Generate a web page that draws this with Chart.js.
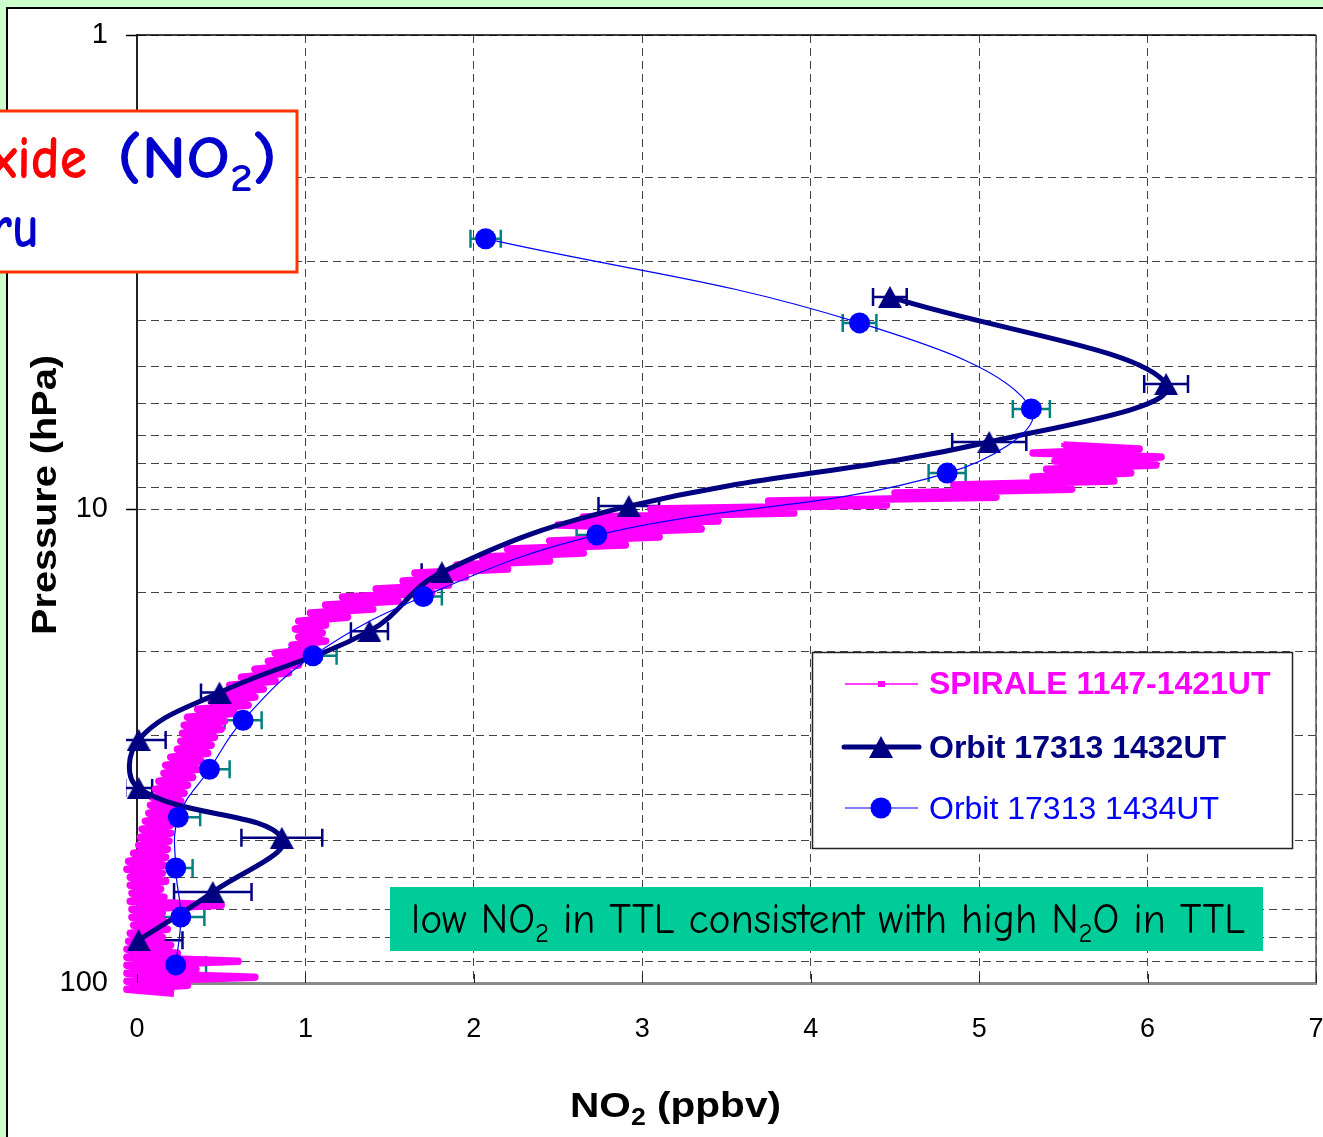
<!DOCTYPE html>
<html>
<head>
<meta charset="utf-8">
<title>NO2 profiles</title>
<script src="https://cdn.jsdelivr.net/npm/chart.js@4/dist/chart.umd.min.js"></script>
<style>
  html, body { margin: 0; padding: 0; background: #ccffcc; overflow: hidden; }
  #panel { position: absolute; left: 6px; top: 7px; width: 1340px; height: 1150px; background: #fff; border: 2px solid #000; }
  #chart { position: absolute; left: 0; top: 0; }
</style>
</head>
<body>
<div id="panel"></div>
<canvas id="chart" width="1323" height="1137"></canvas>
<script>
'use strict'

// SPIRALE balloon profile, traced as left/right edges of the noisy trace
var spiralePres = [
  7.33, 7.47, 7.62, 7.77, 7.92, 8.08, 8.24, 8.40, 8.56, 8.73,
  8.90, 9.08, 9.25, 9.44, 9.62, 9.81, 10.0, 10.2, 10.4, 10.6,
  10.81, 11.02, 11.24, 11.46, 11.68, 11.91, 12.15, 12.39, 12.63, 12.88,
  13.13, 13.39, 13.65, 13.92, 14.19, 14.47, 14.75, 15.04, 15.34, 15.64,
  15.95, 16.26, 16.58, 16.91, 17.24, 17.58, 17.92, 18.27, 18.63, 19.0,
  19.37, 19.75, 20.14, 20.53, 20.94, 21.35, 21.77, 22.19, 22.63, 23.07,
  23.53, 23.99, 24.46, 24.94, 25.43, 25.93, 26.44, 26.96, 27.49, 28.03,
  28.58, 29.14, 29.71, 30.3, 30.89, 31.5, 32.12, 32.75, 33.39, 34.05,
  34.71, 35.4, 36.09, 36.8, 37.52, 38.26, 39.01, 39.78, 40.56, 41.35,
  42.17, 42.99, 43.84, 44.7, 45.58, 46.47, 47.38, 48.31, 49.26, 50.23,
  51.21, 52.22, 53.24, 54.29, 55.35, 56.44, 57.55, 58.68, 59.83, 61.0,
  62.2, 63.42, 64.67, 65.93, 67.23, 68.55, 69.89, 71.26, 72.66, 74.09,
  75.54, 77.02, 78.53, 80.07, 81.64, 83.25, 84.88, 86.54, 88.24, 89.97,
  91.74, 93.54, 95.37, 97.24, 99.15, 101.1, 103.1, 105.1
];
var spiraleNO2 = [
  5.50, 5.95, 5.32, 6.08, 5.45, 6.05, 5.40, 5.90, 5.32, 5.80,
  4.85, 5.55, 4.50, 5.10, 3.75, 4.45, 3.05, 3.90, 2.65, 3.45,
  2.50, 3.35, 2.70, 3.10, 2.45, 2.90, 2.20, 2.65, 2.05, 2.45,
  1.90, 2.20, 1.65, 1.95, 1.58, 1.85, 1.42, 1.75, 1.22, 1.55,
  1.12, 1.40, 1.03, 1.25, 0.96, 1.12, 0.94, 1.10, 0.96, 1.12,
  0.92, 1.06, 0.82, 1.00, 0.78, 0.96, 0.70, 0.90, 0.62, 0.82,
  0.55, 0.75, 0.48, 0.70, 0.44, 0.66, 0.36, 0.58, 0.30, 0.52,
  0.28, 0.50, 0.27, 0.46, 0.26, 0.44, 0.24, 0.42, 0.20, 0.38,
  0.17, 0.36, 0.16, 0.33, 0.13, 0.30, 0.11, 0.28, 0.09, 0.26,
  0.08, 0.23, 0.07, 0.22, 0.05, 0.20, 0.03, 0.20, 0.02, 0.19,
  0.01, 0.18, -0.02, 0.17, -0.05, 0.16, -0.06, 0.15, -0.04, 0.17,
  -0.04, 0.14, -0.03, 0.16, -0.04, 0.50, -0.03, 0.15, -0.03, 0.16,
  -0.02, 0.18, -0.04, 0.15, -0.05, 0.20, -0.06, 0.24, -0.06, 0.60,
  -0.06, 0.35, -0.06, 0.70, -0.06, 0.30, -0.06, 0.22
];

// Orbit 17313 1432UT (triangles)
var orbit1432Pres = [3.57, 5.45, 7.22, 9.86, 13.6, 18.1, 24.4, 30.7, 38.8, 49.4, 64.3, 81.2];
var orbit1432NO2 = [4.47, 6.11, 5.06, 2.92, 1.81, 1.38, 0.49, 0.01, 0.01, 0.86, 0.45, 0.01];
var orbit1432Err = [0.10, 0.13, 0.22, 0.18, 0.12, 0.11, 0.11, 0.16, 0.08, 0.24, 0.23, 0.26];

// Orbit 17313 1434UT (circles)
var orbit1434Pres = [2.69, 4.05, 6.15, 8.40, 11.35, 15.3, 20.4, 27.9, 35.4, 44.7, 57.2, 72.6, 91.6];
var orbit1434NO2 = [2.07, 4.29, 5.31, 4.81, 2.73, 1.70, 1.045, 0.63, 0.43, 0.245, 0.23, 0.26, 0.23];
var orbit1434Err = [0.09, 0.10, 0.11, 0.11, 0.12, 0.11, 0.14, 0.11, 0.12, 0.13, 0.10, 0.14, 0.18];

var xTicks = [0, 1, 2, 3, 4, 5, 6, 7];
var yLabels = [1, 10, 100];

var MAGENTA = '#ff00ff';
var NAVY = '#000080';
var BLUE = '#0000ff';
var TEAL = '#008080';
var SANS = '"Liberation Sans", Arial, sans-serif';
var COMIC = '"Comic Sans MS", "Comic Neue", "Noto Sans", sans-serif';

function toPoints(xs, ys) {
  var pts = [];
  for (var i = 0; i < xs.length; i++) {
    pts.push({x: xs[i], y: ys[i]});
  }
  return pts;
}

// Excel style triangle, centred on its bounding box
function makeTriangle(w, h, color) {
  var c = document.createElement('canvas');
  c.width = w;
  c.height = h;
  var t = c.getContext('2d');
  t.fillStyle = color;
  t.beginPath();
  t.moveTo(w / 2, 0);
  t.lineTo(w, h);
  t.lineTo(0, h);
  t.closePath();
  t.fill();
  return c;
}
var triangle = makeTriangle(24, 22, NAVY);

// text with subscripts: parts = [[text, isSub], ...]
function richWidth(ctx, parts, size, weight, family) {
  var w = 0;
  for (var i = 0; i < parts.length; i++) {
    ctx.font = weight + ' ' + (parts[i][1] ? Math.round(size * 0.65) : size) + 'px ' + family;
    w += ctx.measureText(parts[i][0]).width;
  }
  return w;
}
function drawRich(ctx, parts, x, y, size, weight, family, colors) {
  ctx.textBaseline = 'alphabetic';
  ctx.textAlign = 'left';
  for (var i = 0; i < parts.length; i++) {
    var sub = parts[i][1];
    ctx.font = weight + ' ' + (sub ? Math.round(size * 0.65) : size) + 'px ' + family;
    ctx.fillStyle = colors[i] || colors[0];
    ctx.fillText(parts[i][0], x, y + (sub ? size * 0.22 : 0));
    x += ctx.measureText(parts[i][0]).width;
  }
}
// stretch a rich string so it spans left..left+width
function fitRich(ctx, parts, left, y, width, size, weight, family, colors) {
  var w = richWidth(ctx, parts, size, weight, family);
  ctx.save();
  ctx.translate(left, y);
  ctx.scale(width / w, 1);
  drawRich(ctx, parts, 0, 0, size, weight, family, colors);
  ctx.restore();
}

function drawErrorBars(chart, xs, ps, errs, color, width, cap) {
  var ctx = chart.ctx;
  var sx = chart.scales.x;
  var sy = chart.scales.y;
  var a = chart.chartArea;
  ctx.save();
  ctx.beginPath();
  ctx.rect(a.left - 11, 0, chart.width, chart.height);
  ctx.clip();
  ctx.strokeStyle = color;
  ctx.lineWidth = width;
  for (var i = 0; i < xs.length; i++) {
    var y = sy.getPixelForValue(ps[i]);
    var x1 = sx.getPixelForValue(xs[i] - errs[i]);
    var x2 = sx.getPixelForValue(xs[i] + errs[i]);
    ctx.beginPath();
    ctx.moveTo(x1, y);
    ctx.lineTo(x2, y);
    ctx.moveTo(x1, y - cap / 2);
    ctx.lineTo(x1, y + cap / 2);
    ctx.moveTo(x2, y - cap / 2);
    ctx.lineTo(x2, y + cap / 2);
    ctx.stroke();
  }
  ctx.restore();
}

var decorations = {
  id: 'decorations',
  beforeDatasetsDraw: function(chart) {
    drawErrorBars(chart, orbit1432NO2, orbit1432Pres, orbit1432Err, NAVY, 2.5, 18);
    drawErrorBars(chart, orbit1434NO2, orbit1434Pres, orbit1434Err, TEAL, 2.5, 18);
  },
  afterDraw: function(chart) {
    var ctx = chart.ctx;
    var a = chart.chartArea;
    ctx.save();

    // plot frame top and right, inner x ticks
    ctx.lineWidth = 1.5;
    ctx.strokeStyle = '#000';
    ctx.beginPath();
    ctx.moveTo(a.left, a.top);
    ctx.lineTo(a.right, a.top);
    ctx.stroke();
    ctx.strokeStyle = '#555';
    ctx.beginPath();
    ctx.moveTo(a.right, a.top);
    ctx.lineTo(a.right, a.bottom);
    ctx.stroke();
    ctx.strokeStyle = '#222';
    ctx.lineWidth = 1;
    ctx.beginPath();
    for (var i = 0; i < xTicks.length; i++) {
      var tx = Math.round(chart.scales.x.getPixelForValue(xTicks[i])) + 0.5;
      ctx.moveTo(tx, a.bottom - 9);
      ctx.lineTo(tx, a.bottom);
    }
    ctx.stroke();

    // legend
    var lx = 812, ly = 652;
    ctx.fillStyle = '#fff';
    ctx.fillRect(lx, ly, 480, 196);
    ctx.strokeStyle = '#222';
    ctx.lineWidth = 1.5;
    ctx.strokeRect(lx + 0.5, ly + 0.5, 480, 196);

    ctx.strokeStyle = MAGENTA;
    ctx.lineWidth = 1.5;
    ctx.beginPath();
    ctx.moveTo(845, 684);
    ctx.lineTo(918, 684);
    ctx.stroke();
    ctx.fillStyle = MAGENTA;
    ctx.fillRect(878, 681, 7, 6);

    ctx.strokeStyle = NAVY;
    ctx.lineWidth = 5;
    ctx.lineCap = 'round';
    ctx.beginPath();
    ctx.moveTo(844, 747);
    ctx.lineTo(919, 747);
    ctx.stroke();
    ctx.drawImage(triangle, 881 - 12, 747 - 11);

    ctx.strokeStyle = BLUE;
    ctx.lineWidth = 1.2;
    ctx.lineCap = 'butt';
    ctx.beginPath();
    ctx.moveTo(845, 808);
    ctx.lineTo(918, 808);
    ctx.stroke();
    ctx.fillStyle = BLUE;
    ctx.beginPath();
    ctx.arc(881, 808, 10.5, 0, Math.PI * 2);
    ctx.fill();

    ctx.textAlign = 'left';
    ctx.textBaseline = 'alphabetic';
    ctx.font = 'bold 32px ' + SANS;
    ctx.fillStyle = MAGENTA;
    ctx.fillText('SPIRALE 1147-1421UT', 929, 694);
    ctx.fillStyle = NAVY;
    ctx.fillText('Orbit 17313 1432UT', 929, 758);
    ctx.font = '32px ' + SANS;
    ctx.fillStyle = BLUE;
    ctx.fillText('Orbit 17313 1434UT', 929, 819);

    // TTL note
    ctx.fillStyle = '#00cc99';
    ctx.fillRect(390, 887, 873, 64);
    var note = [['low NO', false], ['2', true], [' in TTL consistent with high N', false], ['2', true], ['O in TTL', false]];
    fitRich(ctx, note, 411, 933, 834, 42, 'normal', COMIC, ['#000']);

    // heading box
    ctx.fillStyle = '#fff';
    ctx.fillRect(-10, 110, 307, 163);
    ctx.strokeStyle = '#ff3300';
    ctx.lineWidth = 3;
    ctx.strokeRect(-10, 111, 307, 161);
    fitRich(ctx, [['(NO', false], ['2', true], [')', false]], 117, 178, 160, 60, 'bold', COMIC, ['#0000cc']);
    fitRich(ctx, [['xide', false]], -10, 178, 97, 60, 'bold', COMIC, ['#ff0000']);
    fitRich(ctx, [['ru', false]], -9, 247, 48, 60, 'bold', COMIC, ['#0000cc']);

    // axis titles
    fitRich(ctx, [['NO', false], ['2', true], [' (ppbv)', false]], 570, 1117, 211, 35, 'bold', SANS, ['#000']);

    ctx.save();
    ctx.translate(56, 635);
    ctx.rotate(-Math.PI / 2);
    fitRich(ctx, [['Pressure (hPa)', false]], 0, 0, 280, 35, 'bold', SANS, ['#000']);
    ctx.restore();

    ctx.restore();
  }
};

var ctx = document.getElementById('chart').getContext('2d');

var chart = new Chart(ctx, {
  type: 'scatter',
  data: {
    datasets: [{
      label: 'Orbit 17313 1434UT',
      data: toPoints(orbit1434NO2, orbit1434Pres),
      showLine: true,
      borderColor: BLUE,
      borderWidth: 1.2,
      backgroundColor: BLUE,
      pointStyle: 'circle',
      pointRadius: 10.5,
      pointBorderWidth: 0,
      tension: 0.4,
      clip: false,
      order: 0
    }, {
      label: 'Orbit 17313 1432UT',
      data: toPoints(orbit1432NO2, orbit1432Pres),
      showLine: true,
      borderColor: NAVY,
      borderWidth: 5,
      backgroundColor: NAVY,
      pointStyle: triangle,
      pointRadius: 12,
      tension: 0.4,
      capBezierPoints: false,
      clip: false,
      order: 1
    }, {
      label: 'SPIRALE 1147-1421UT',
      data: toPoints(spiraleNO2, spiralePres),
      showLine: true,
      borderColor: MAGENTA,
      borderWidth: 7.5,
      borderJoinStyle: 'round',
      backgroundColor: MAGENTA,
      pointStyle: 'rect',
      pointRadius: 3,
      pointBorderWidth: 0,
      tension: 0,
      clip: false,
      order: 2
    }]
  },
  options: {
    responsive: false,
    animation: false,
    events: [],
    layout: { autoPadding: false, padding: { left: 0, top: 35, right: 7, bottom: 0 } },
    plugins: { legend: { display: false }, tooltip: { enabled: false } },
    scales: {
      x: {
        type: 'linear',
        position: 'bottom',
        min: 0,
        max: 7,
        afterFit: function(s) {
          s.height = 154;
          s.paddingLeft = 0;
          s.paddingRight = 0;
        },
        ticks: { stepSize: 1, color: '#000', padding: 0, maxRotation: 0, font: { family: SANS, size: 27 } },
        grid: { color: '#444', lineWidth: 1, drawTicks: true, tickLength: 30, tickColor: 'rgba(0,0,0,0)' },
        border: { color: '#8a8a8a', width: 3, dash: [8, 5] }
      },
      y: {
        type: 'logarithmic',
        min: 1,
        max: 100,
        reverse: true,
        afterFit: function(s) {
          s.width = 137;
          s.paddingTop = 0;
          s.paddingBottom = 0;
        },
        ticks: {
          autoSkip: false,
          color: '#000',
          padding: 18,
          font: { family: SANS, size: 29 },
          callback: function(v) { return yLabels.indexOf(v) >= 0 ? String(v) : ''; }
        },
        grid: {
          color: '#444',
          lineWidth: 1,
          tickLength: 11,
          tickWidth: 1.5,
          tickColor: function(c) {
            return c.tick && yLabels.indexOf(c.tick.value) >= 0 ? '#000' : 'rgba(0,0,0,0)';
          }
        },
        border: { color: '#222', width: 2, dash: [8, 5] }
      }
    }
  },
  plugins: [decorations]
});
</script>
</body>
</html>
